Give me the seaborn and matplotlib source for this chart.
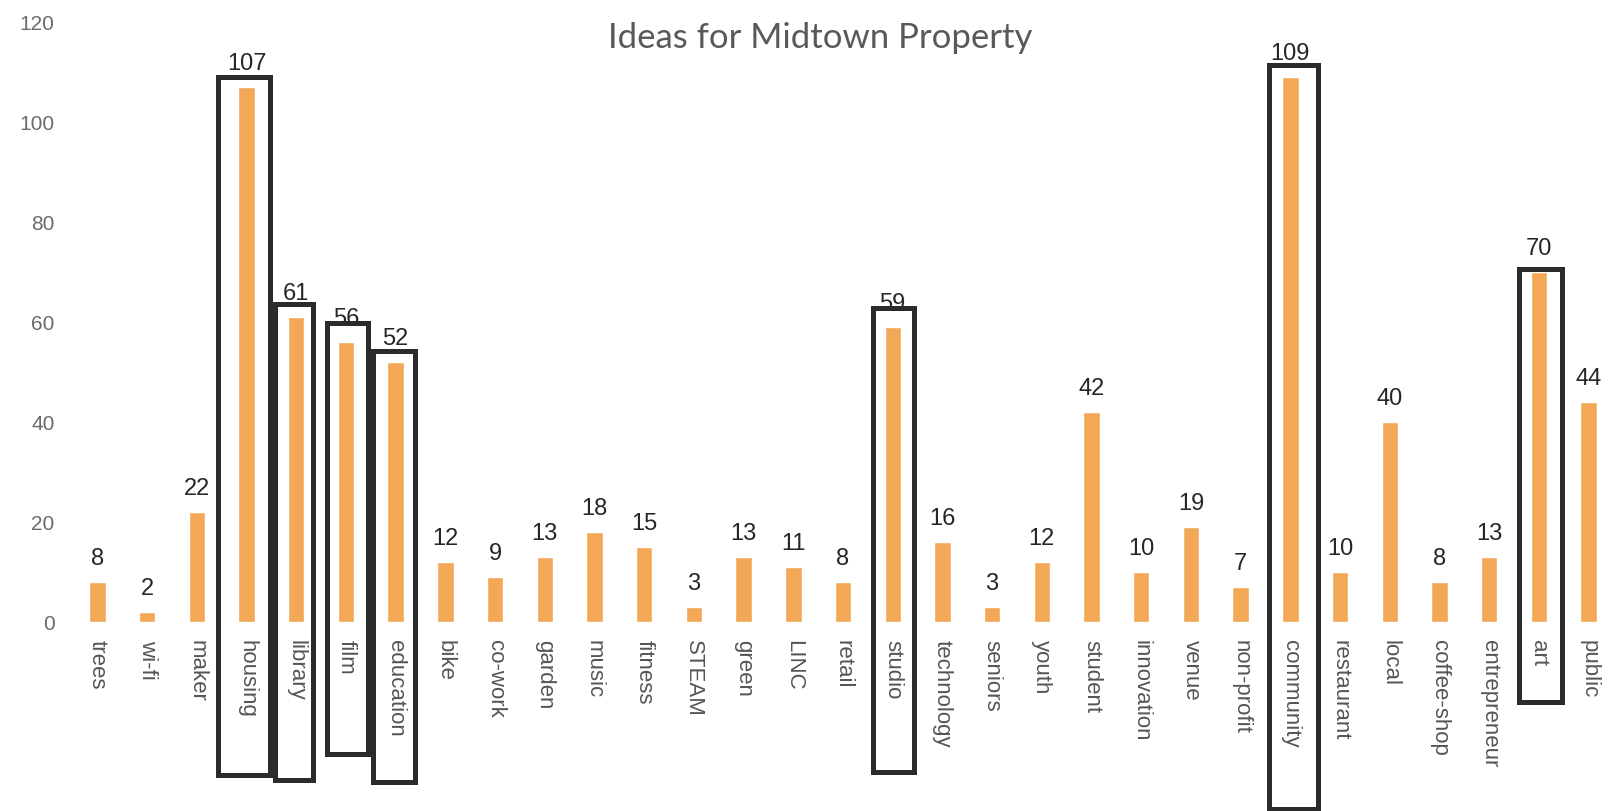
import numpy as np
import pandas as pd
import seaborn as sns
from matplotlib import pyplot as plt
from matplotlib.patches import Rectangle

# word counts
ideas = ['trees', 'wi-fi', 'maker', 'housing', 'library', 'film', 'education', 'bike',
         'co-work', 'garden', 'music', 'fitness', 'STEAM', 'green', 'LINC', 'retail',
         'studio', 'technology', 'seniors', 'youth', 'student', 'innovation', 'venue',
         'non-profit', 'community', 'restaurant', 'local', 'coffee-shop', 'entrepreneur',
         'art', 'public']
counts = [8, 2, 22, 107, 61, 56, 52, 12, 9, 13, 18, 15, 3, 13, 11, 8,
          59, 16, 3, 12, 42, 10, 19, 7, 109, 10, 40, 8, 13, 70, 44]
y_ticks = [0, 20, 40, 60, 80, 100, 120]

# hand-drawn boxes: category -> (left, right, top, bottom) in axis units
boxes = {
    'housing':   (2.42, 3.47, 109.0, -30.7),
    'library':   (3.57, 4.34, 63.6, -31.7),
    'film':      (4.62, 5.44, 59.8, -26.4),
    'education': (5.54, 6.39, 54.1, -32.0),
    'studio':    (15.60, 16.43, 62.8, -30.0),
    'community': (23.57, 24.56, 111.3, -37.4),
    'art':       (28.60, 29.47, 70.6, -16.0),
}

df = pd.DataFrame({'Idea': ideas, 'Count': counts})

sns.set_style('white')
plt.rcParams['font.family'] = ['Liberation Sans', 'DejaVu Sans']

fig = plt.figure(figsize=(16.12, 8.12), dpi=100)
ax = fig.add_axes([0.045, 0.2328, 0.955, 0.7389])

sns.barplot(data=df, x='Idea', y='Count', color='#F3A857', saturation=1,
            width=0.33, ax=ax)
ax.bar_label(ax.containers[0], padding=9.5, fontsize=17, color='#262626')

ax.set_xlim(-0.5, 30.47)
ax.set_ylim(0, 120)
ax.set_yticks(y_ticks)
ax.set_yticklabels([str(t) for t in y_ticks], fontsize=15, color='#6b6b6b')
ax.tick_params(axis='y', length=0, pad=13)
ax.tick_params(axis='x', length=0, pad=12)
plt.setp(ax.get_xticklabels(), rotation=270, fontsize=16, color='#555555',
         ha='center', va='top')
ax.set_xlabel('')
ax.set_ylabel('')
sns.despine(ax=ax, left=True, bottom=True)

# black boxes round the highlighted ideas
for name, (x0, x1, top, bottom) in boxes.items():
    ax.add_patch(Rectangle((x0, bottom), x1 - x0, top - bottom, fill=False,
                           edgecolor='#2b2b2b', linewidth=3.6, clip_on=False,
                           zorder=5))

fig.text(0.509, 0.941, 'Ideas for Midtown Property', family=['Lato', 'DejaVu Sans'],
         fontsize=25, color='#595959', ha='center', va='baseline')

fig.savefig('out.png', dpi=100)
